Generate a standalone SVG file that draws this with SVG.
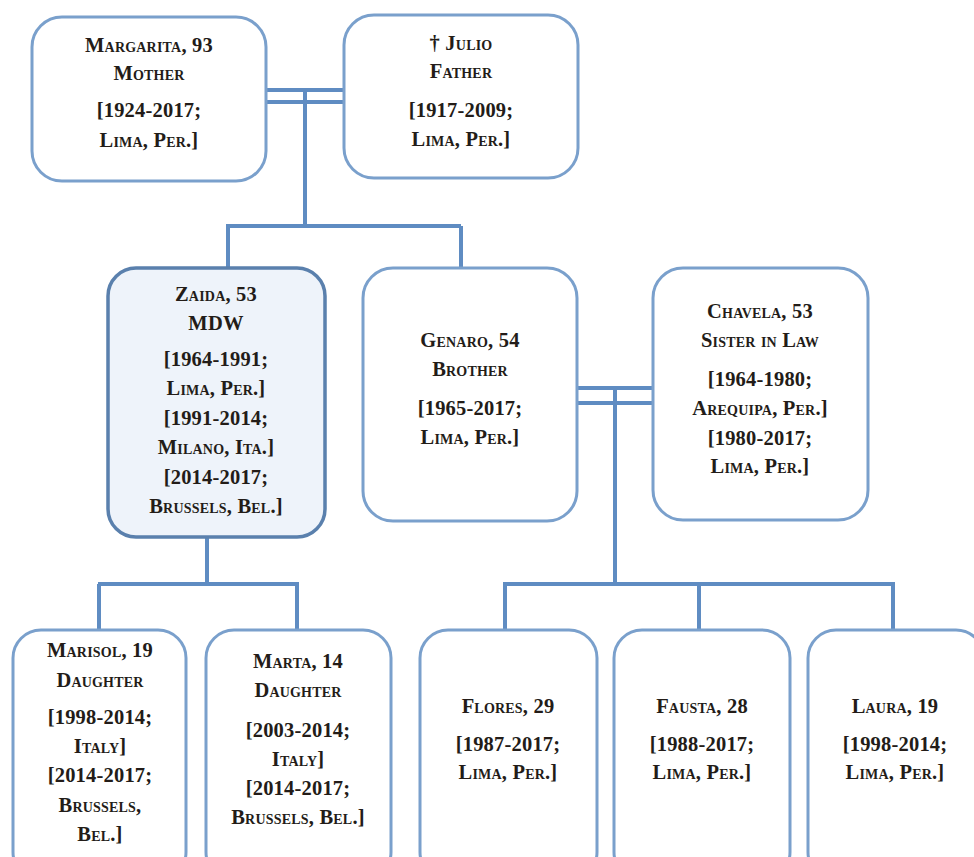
<svg xmlns="http://www.w3.org/2000/svg" width="974" height="857" viewBox="0 0 974 857">
  <style>
    .box { fill: #ffffff; stroke: #7aa0cc; stroke-width: 3; }
    .focus { fill: #eef3fa; stroke: #5a80ad; stroke-width: 3.5; }
    .link { fill: none; stroke: #5f8cc2; stroke-width: 4; }
    text { font-family: "Liberation Serif", "DejaVu Serif", serif; font-weight: bold; font-variant: small-caps; font-size: 20.5px; letter-spacing: 0.2px; fill: #231c18; text-anchor: middle; }
  </style>
  <rect width="974" height="857" fill="#ffffff"/>

  <g id="connectors">
    <!-- parents couple -->
    <path class="link" d="M265 90 H344 M265 102 H344 M305 90 V226 M226 226 H461 M228 226 V268 M461 226 V268"/>
    <!-- Zaida to daughters -->
    <path class="link" d="M207 537 V584 M98 584 H299 M99 584 V630 M297 584 V630"/>
    <!-- Genaro and Chavela couple -->
    <path class="link" d="M577 388 H653 M577 403 H653 M615 388 V584 M503 584 H895 M505 584 V630 M699 584 V630 M893 584 V630"/>
  </g>

  <g id="margarita">
    <rect class="box" x="32" y="17" width="234" height="164" rx="30"/>
    <text x="149" y="52">Margarita, 93</text>
    <text x="149" y="80">Mother</text>
    <text x="149" y="117">[1924-2017;</text>
    <text x="149" y="147">Lima, Per.]</text>
  </g>

  <g id="julio">
    <rect class="box" x="344" y="15" width="234" height="163" rx="30"/>
    <text x="461" y="50">† Julio</text>
    <text x="461" y="78">Father</text>
    <text x="461" y="117">[1917-2009;</text>
    <text x="461" y="146">Lima, Per.]</text>
  </g>

  <g id="zaida">
    <rect class="focus" x="108" y="268" width="217" height="269" rx="28"/>
    <text x="216" y="301">Zaida, 53</text>
    <text x="216" y="330">MDW</text>
    <text x="216" y="366">[1964-1991;</text>
    <text x="216" y="395">Lima, Per.]</text>
    <text x="216" y="425">[1991-2014;</text>
    <text x="216" y="454">Milano, Ita.]</text>
    <text x="216" y="484">[2014-2017;</text>
    <text x="216" y="513">Brussels, Bel.]</text>
  </g>

  <g id="genaro">
    <rect class="box" x="363" y="268" width="214" height="253" rx="30"/>
    <text x="470" y="347">Genaro, 54</text>
    <text x="470" y="376">Brother</text>
    <text x="470" y="415">[1965-2017;</text>
    <text x="470" y="444">Lima, Per.]</text>
  </g>

  <g id="chavela">
    <rect class="box" x="653" y="268" width="215" height="252" rx="30"/>
    <text x="760" y="318">Chavela, 53</text>
    <text x="760" y="347">Sister in Law</text>
    <text x="760" y="386">[1964-1980;</text>
    <text x="760" y="415">Arequipa, Per.]</text>
    <text x="760" y="445">[1980-2017;</text>
    <text x="760" y="473">Lima, Per.]</text>
  </g>

  <g id="marisol">
    <rect class="box" x="13" y="630" width="173" height="250" rx="28"/>
    <text x="100" y="657">Marisol, 19</text>
    <text x="100" y="687">Daughter</text>
    <text x="100" y="724">[1998-2014;</text>
    <text x="100" y="753">Italy]</text>
    <text x="100" y="782">[2014-2017;</text>
    <text x="100" y="812">Brussels,</text>
    <text x="100" y="841">Bel.]</text>
  </g>

  <g id="marta">
    <rect class="box" x="206" y="630" width="185" height="250" rx="28"/>
    <text x="298" y="668">Marta, 14</text>
    <text x="298" y="697">Daughter</text>
    <text x="298" y="737">[2003-2014;</text>
    <text x="298" y="766">Italy]</text>
    <text x="298" y="795">[2014-2017;</text>
    <text x="298" y="824">Brussels, Bel.]</text>
  </g>

  <g id="flores">
    <rect class="box" x="420" y="630" width="177" height="250" rx="28"/>
    <text x="508" y="713">Flores, 29</text>
    <text x="508" y="751">[1987-2017;</text>
    <text x="508" y="779">Lima, Per.]</text>
  </g>

  <g id="fausta">
    <rect class="box" x="614" y="630" width="176" height="250" rx="28"/>
    <text x="702" y="713">Fausta, 28</text>
    <text x="702" y="751">[1988-2017;</text>
    <text x="702" y="779">Lima, Per.]</text>
  </g>

  <g id="laura">
    <rect class="box" x="808" y="630" width="176" height="250" rx="28"/>
    <text x="895" y="713">Laura, 19</text>
    <text x="895" y="751">[1998-2014;</text>
    <text x="895" y="779">Lima, Per.]</text>
  </g>
</svg>
